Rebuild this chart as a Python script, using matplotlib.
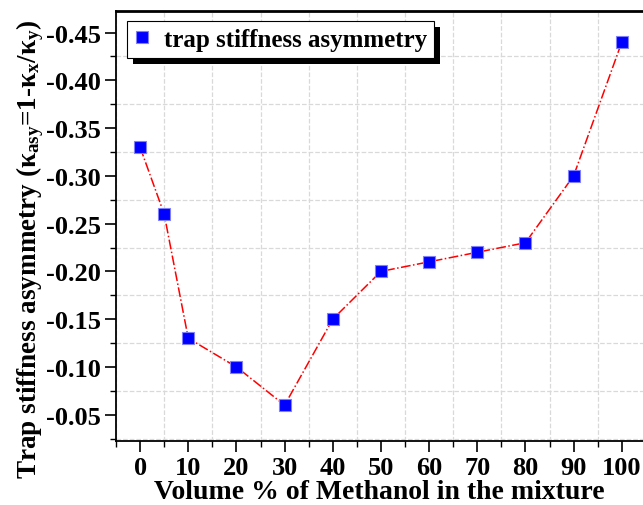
import matplotlib
matplotlib.use("Agg")
import matplotlib.pyplot as plt
from matplotlib.patches import Rectangle
from matplotlib.ticker import MultipleLocator

methanol = [0, 5, 10, 20, 30, 40, 50, 60, 70, 80, 90, 100]
asymmetry = [-0.33, -0.26, -0.13, -0.10, -0.06, -0.15, -0.20, -0.21, -0.22, -0.23, -0.30, -0.44]
x_ticks = [0, 10, 20, 30, 40, 50, 60, 70, 80, 90, 100]
y_ticks = [-0.05, -0.10, -0.15, -0.20, -0.25, -0.30, -0.35, -0.40, -0.45]

plt.rcParams['font.family'] = ['Liberation Serif', 'DejaVu Serif']
plt.rcParams['font.weight'] = 'bold'
plt.rcParams['mathtext.fontset'] = 'custom'
plt.rcParams['mathtext.rm'] = 'Liberation Serif:bold'
plt.rcParams['mathtext.it'] = 'Liberation Serif:bold'
plt.rcParams['mathtext.bf'] = 'Liberation Serif:bold'

fig = plt.figure(figsize=(6.43, 5.06), dpi=100)
ax = fig.add_axes([116 / 643, 64 / 506, 1.0 - 116 / 643, (442 - 12) / 506])

ax.plot(methanol, asymmetry, color='red', linestyle='-.', linewidth=1.1, zorder=2)
ax.plot(methanol, asymmetry, linestyle='none', marker='s', markersize=8,
        markerfacecolor='#0000ff', markeredgecolor='#8080ff', markeredgewidth=0.8,
        label='trap stiffness asymmetry', zorder=3)

ax.set_xlim(-5, 104.4)
ax.set_ylim(-0.0225, -0.4725)
ax.set_xticks(x_ticks)
ax.set_yticks(y_ticks)
ax.set_yticklabels(['%.2f' % v for v in y_ticks])
ax.xaxis.set_minor_locator(MultipleLocator(5))
ax.yaxis.set_minor_locator(MultipleLocator(0.025))
ax.grid(which='minor', color='#d9d9d9', linestyle='--', linewidth=0.9)
ax.tick_params(which='major', direction='out', length=8, width=1.2, labelsize=19, pad=3)
ax.tick_params(which='minor', direction='out', length=4, width=1.0)
ax.tick_params(top=False, right=False)

ax.spines['right'].set_visible(False)
for s in ['left', 'bottom']:
    ax.spines[s].set_linewidth(1.3)
ax.spines['top'].set_linewidth(2.0)

ax.set_xlabel('Volume % of Methanol in the mixture', fontsize=20, fontweight='bold', labelpad=0)
ax.set_ylabel(r'Trap stiffness asymmetry ($\kappa_{\rm asy}$=1-$\kappa_{\rm x}$/$\kappa_{\rm y}$)',
              fontsize=19.5, fontweight='bold')
ax.yaxis.set_label_coords(-0.133, 0.447)

leg = ax.legend(loc='upper left', fontsize=18, frameon=True, fancybox=False, shadow=False,
                framealpha=1, handlelength=0.6, handletextpad=0.6, borderpad=0.28,
                borderaxespad=0, bbox_to_anchor=(0.021, 0.977))
leg.get_frame().set_facecolor('white')
leg.get_frame().set_edgecolor('black')
leg.get_frame().set_linewidth(0.8)
leg.set_zorder(6)

# solid black drop shadow under the legend box
fig.canvas.draw()
bb = leg.get_window_extent()
shadow = Rectangle((bb.x0 + 6, bb.y0 - 6), bb.width, bb.height, transform=None,
                   facecolor='black', edgecolor='none', zorder=5.5, clip_on=False)
ax.add_artist(shadow)

fig.savefig('out.png', dpi=100)
